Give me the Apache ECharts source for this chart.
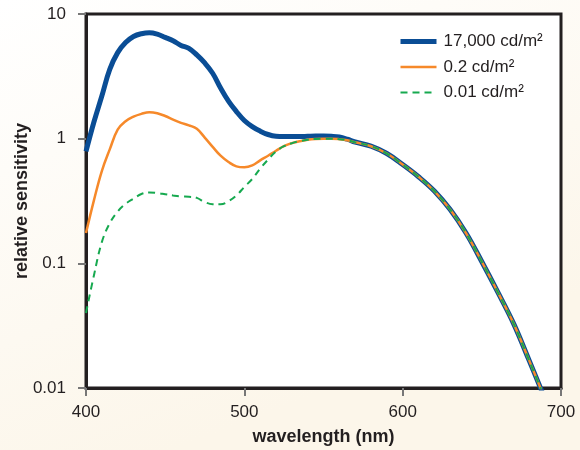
<!DOCTYPE html>
<html>
<head>
<meta charset="utf-8">
<script src="https://cdn.jsdelivr.net/npm/echarts@6/dist/echarts.min.js"></script>
<style>
html,body{margin:0;padding:0;background:#fff;}
#chart{width:580px;height:450px;}
</style>
</head>
<body>
<div id="chart"></div>
<script>
var wavelength = [400,405,410,415,420,425,430,435,440,445,450,455,460,465,470,475,480,485,490,495,500,505,510,515,520,525,530,535,540,545,550,555,560,565,570,580,590,600,610,620,630,640,650,660,670,680,690];
var photopic = [0.79,1.36,2.2,3.6,4.9,5.9,6.6,6.95,7.08,6.9,6.5,6.1,5.6,5.3,4.7,4.05,3.35,2.55,2.0,1.65,1.4,1.25,1.15,1.08,1.045,1.04,1.04,1.04,1.045,1.05,1.05,1.045,1.03,0.99,0.94,0.87,0.76,0.62,0.495,0.38,0.27,0.175,0.103,0.059,0.033,0.0165,0.0081];
var mesopic = [0.175,0.32,0.55,0.82,1.18,1.38,1.5,1.58,1.63,1.6,1.52,1.42,1.34,1.28,1.2,1.02,0.86,0.73,0.65,0.6,0.59,0.61,0.67,0.73,0.8,0.87,0.92,0.955,0.98,0.995,1.0,1.0,0.99,0.97,0.935,0.87,0.76,0.62,0.495,0.38,0.27,0.175,0.103,0.059,0.033,0.0165,0.0081];
var scotopic = [0.04,0.08,0.148,0.21,0.26,0.3,0.33,0.36,0.37,0.366,0.358,0.35,0.344,0.342,0.335,0.31,0.298,0.298,0.315,0.35,0.41,0.475,0.575,0.68,0.79,0.87,0.92,0.955,0.98,0.995,1.0,1.0,0.99,0.97,0.935,0.87,0.76,0.62,0.495,0.38,0.27,0.175,0.103,0.059,0.033,0.0165,0.0081];
var seriesNames = ['17,000 cd/m²','0.2 cd/m²','0.01 cd/m²'];
var xTicks = [400,500,600,700];
var yTicks = [0.01,0.1,1,10];

function pairs(vals){ return wavelength.map(function(w,i){ return [w, vals[i]]; }); }

var chart = echarts.init(document.getElementById('chart'), null, {renderer:'canvas'});
var font = 'Liberation Sans, Arial, Helvetica, sans-serif';
var colors = ['#0a4d95','#f6892a','#16a94f'];
var widths = [5,2.5,2];
var types = ['solid','solid',[7,5]];
chart.setOption({
  animation:false,
  backgroundColor:{type:'linear',x:0,y:0,x2:0.3,y2:1,colorStops:[{offset:0,color:'#ffffff'},{offset:1,color:'#fcf6ea'}]},
  textStyle:{fontFamily:font},
  grid:{left:86,right:19,top:14,bottom:62,show:true,containLabel:false,outerBoundsMode:'none',
    backgroundColor:'#ffffff',borderColor:'#231f20',borderWidth:3},
  legend:{
    orient:'vertical',left:398,top:33,padding:0,itemWidth:36,itemHeight:14,itemGap:8.5,
    itemStyle:{opacity:0,borderWidth:0},
    textStyle:{fontSize:17,color:'#231f20',fontFamily:font,padding:[0,0,0,2]},
    data:seriesNames.map(function(n,i){ return {name:n,lineStyle:{width:widths[i],color:colors[i],type:types[i]}}; })
  },
  xAxis:{
    type:'value',min:xTicks[0],max:xTicks[xTicks.length-1],interval:100,
    name:'wavelength (nm)',nameLocation:'middle',nameGap:40,nameMoveOverlap:false,
    nameTextStyle:{fontSize:18,fontWeight:'bold',color:'#231f20',fontFamily:font},
    axisLine:{lineStyle:{color:'#231f20',width:3}},
    axisTick:{show:true,length:8,lineStyle:{color:'#777',width:2}},
    axisLabel:{fontSize:17,color:'#231f20',margin:16,fontFamily:font},
    splitLine:{show:false}
  },
  yAxis:{
    type:'log',logBase:10,min:yTicks[0],max:yTicks[yTicks.length-1],
    name:'relative sensitivity',nameLocation:'middle',nameGap:55,nameMoveOverlap:false,
    nameTextStyle:{fontSize:18,fontWeight:'bold',color:'#231f20',fontFamily:font},
    axisLine:{show:true,lineStyle:{color:'#231f20',width:3}},
    axisTick:{show:true,length:8,lineStyle:{color:'#777',width:2}},
    axisLabel:{fontSize:17,color:'#231f20',margin:20,fontFamily:font,
      formatter:function(v){ return String(Number(v.toPrecision(3))); }},
    splitLine:{show:false},minorTick:{show:false}
  },
  series:seriesNames.map(function(n,i){
    return {name:n,type:'line',data:pairs([photopic,mesopic,scotopic][i]),smooth:0.4,symbol:'none',clip:true,
      lineStyle:{color:colors[i],width:widths[i],type:types[i]},itemStyle:{color:colors[i]}};
  })
});
</script>
</body>
</html>
